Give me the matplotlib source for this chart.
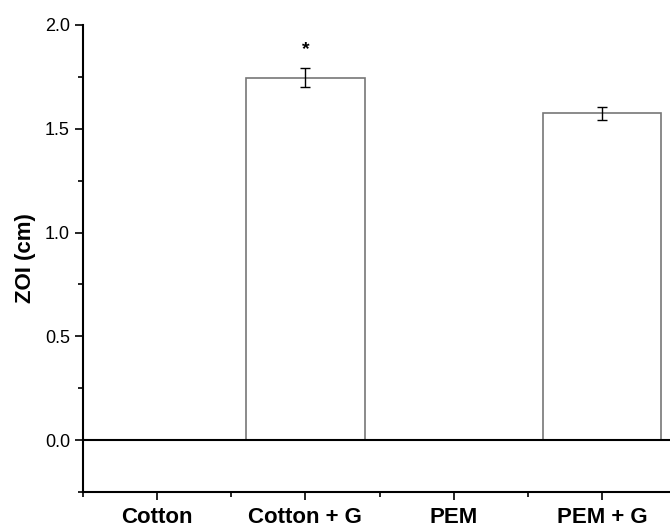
import matplotlib.pyplot as plt
from matplotlib.ticker import MultipleLocator

# data
groups = ["Cotton", "Cotton + G", "PEM", "PEM + G"]
zoi = [0.0, 1.746, 0.0, 1.574]
zoi_err = [0.0, 0.045, 0.0, 0.030]
marks = ["", "*", "", ""]

plt.rcParams["font.family"] = ["Liberation Sans", "DejaVu Sans"]

fig = plt.figure(figsize=(6.7, 5.27), dpi=100)
ax = fig.add_axes([0.124, 0.066, 0.885, 0.887])

x = list(range(len(groups)))
bars = ax.bar(x, zoi, width=0.8, color="white", edgecolor="#777777", linewidth=1.2, zorder=2)
for xi, v, e in zip(x, zoi, zoi_err):
    if v > 0:
        ax.errorbar(xi, v, yerr=e, color="black", capsize=3.5, elinewidth=1, capthick=1, zorder=3)
for xi, v, e, m in zip(x, zoi, zoi_err, marks):
    if m:
        ax.text(xi, v + e + 0.09, m, ha="center", va="center", fontsize=14, fontweight="bold")

ax.axhline(0, color="black", linewidth=1.5, zorder=4)

ax.set_xlim(-0.5, 3.5)
ax.set_ylim(-0.25, 2.0)
ax.set_xticks(x)
ax.set_xticklabels(groups, fontsize=16, fontweight="bold")
ax.xaxis.set_minor_locator(MultipleLocator(1, offset=0.5))
ax.yaxis.set_minor_locator(MultipleLocator(0.25))
ax.set_yticks([0.0, 0.5, 1.0, 1.5, 2.0])
ax.set_yticklabels(["0.0", "0.5", "1.0", "1.5", "2.0"], fontsize=13)
ax.set_ylabel("ZOI (cm)", fontsize=16, fontweight="bold", labelpad=6)

ax.tick_params(which="major", direction="out", length=6, width=1.2)
ax.tick_params(which="minor", direction="out", length=3.5, width=1.2)
ax.tick_params(axis="x", which="major", pad=5)
ax.spines["top"].set_visible(False)
ax.spines["right"].set_visible(False)
for s in ["left", "bottom"]:
    ax.spines[s].set_linewidth(1.5)

fig.savefig("out.png", dpi=100)
